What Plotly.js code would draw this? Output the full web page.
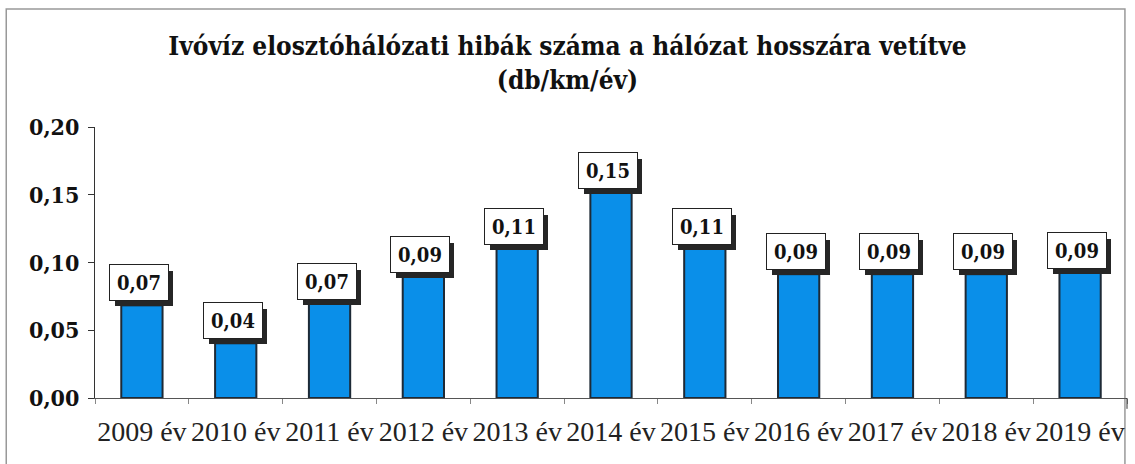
<!DOCTYPE html>
<html>
<head>
<meta charset="utf-8">
<script src="https://cdn.plot.ly/plotly-3.0.1.min.js"></script>
<style>
  html, body { margin: 0; padding: 0; background: #fff; }
  #chart { width: 1135px; height: 464px; }
</style>
</head>
<body>
<div id="chart"></div>
<script>
// hibák száma (db/km/év), évenként
const years = ['2009 év', '2010 év', '2011 év', '2012 év', '2013 év', '2014 év',
               '2015 év', '2016 év', '2017 év', '2018 év', '2019 év'];
const values = [0.072, 0.044, 0.073, 0.093, 0.114, 0.155, 0.114, 0.095, 0.095, 0.095, 0.096];
const labels = ['0,07', '0,04', '0,07', '0,09', '0,11', '0,15', '0,11', '0,09', '0,09', '0,09', '0,09'];
const yTicks = [0, 0.05, 0.10, 0.15, 0.20];

const serif = 'Liberation Serif';
const boldSerif = 'DejaVu Serif Condensed, DejaVu Serif';
const capH = 0.004; // sötét "fedlap" a hasábok tetején

const bars = {
  type: 'bar',
  x: years,
  y: values,
  width: 0.44,
  marker: { color: '#0a8fe9', line: { color: '#1e2a36', width: 2 } },
  hoverinfo: 'skip'
};
const caps = {
  type: 'bar',
  x: years,
  y: values.map(() => capH),
  base: values.map(v => v - capH),
  width: 0.44,
  marker: { color: '#2b2f33', line: { color: '#1e2a36', width: 1 } },
  hoverinfo: 'skip'
};

// dobozos adatfeliratok árnyékkal
const notes = [];
years.forEach((yr, i) => {
  const base = { x: yr, y: values[i], xref: 'x', yref: 'y', yanchor: 'bottom',
    showarrow: false, width: 54, height: 31, borderpad: 2 };
  notes.push(Object.assign({}, base, {
    text: '', bgcolor: '#262626', xshift: 2, yshift: -6, borderwidth: 0
  }));
  notes.push(Object.assign({}, base, {
    text: labels[i], xshift: -3, yshift: -1,
    bgcolor: '#ffffff', bordercolor: '#222', borderwidth: 1,
    font: { family: boldSerif, size: 20, color: '#111', weight: 'bold' }
  }));
});

const layout = {
  width: 1135, height: 464,
  margin: { l: 95, r: 8, t: 127, b: 66 },
  paper_bgcolor: '#fff', plot_bgcolor: '#fff',
  separators: ',.',
  showlegend: false,
  barmode: 'overlay',
  title: {
    text: 'Ivóvíz elosztóhálózati hibák száma a hálózat hosszára vetítve<br>(db/km/év)',
    font: { family: boldSerif, size: 26, color: '#111', weight: 'bold' },
    x: 0.5, xref: 'container', y: 0.882, yref: 'container', yanchor: 'middle'
  },
  xaxis: {
    type: 'category',
    range: [-0.5, 10.5],
    showline: true, linecolor: '#555', linewidth: 1,
    ticks: 'outside', tickson: 'boundaries', ticklen: 5, tickcolor: '#888',
    showgrid: false, zeroline: false,
    tickangle: 0,
    ticklabelstandoff: 8,
    tickfont: { family: serif, size: 28, color: '#222' }
  },
  yaxis: {
    range: [0, 0.2],
    tickvals: yTicks,
    tickformat: '.2f',
    showline: true, linecolor: '#333', linewidth: 1,
    ticks: 'outside', ticklen: 6, tickcolor: '#333',
    showgrid: false, zeroline: false,
    ticklabelstandoff: 4,
    tickfont: { family: boldSerif, size: 23, color: '#111', weight: 'bold' }
  },
  annotations: notes,
  shapes: [
    { type: 'rect', xref: 'paper', yref: 'paper', layer: 'below',
      x0: -0.0860, x1: 0.9980, y0: -0.3, y1: 1.4356,
      line: { color: '#999', width: 1.5 } },
    { type: 'line', xref: 'paper', yref: 'paper',
      x0: 1, x1: 1, y0: 0, y1: -0.04, line: { color: '#333', width: 1 } }
  ]
};

Plotly.newPlot('chart', [bars, caps], layout, { displayModeBar: false, staticPlot: true });
</script>
</body>
</html>
